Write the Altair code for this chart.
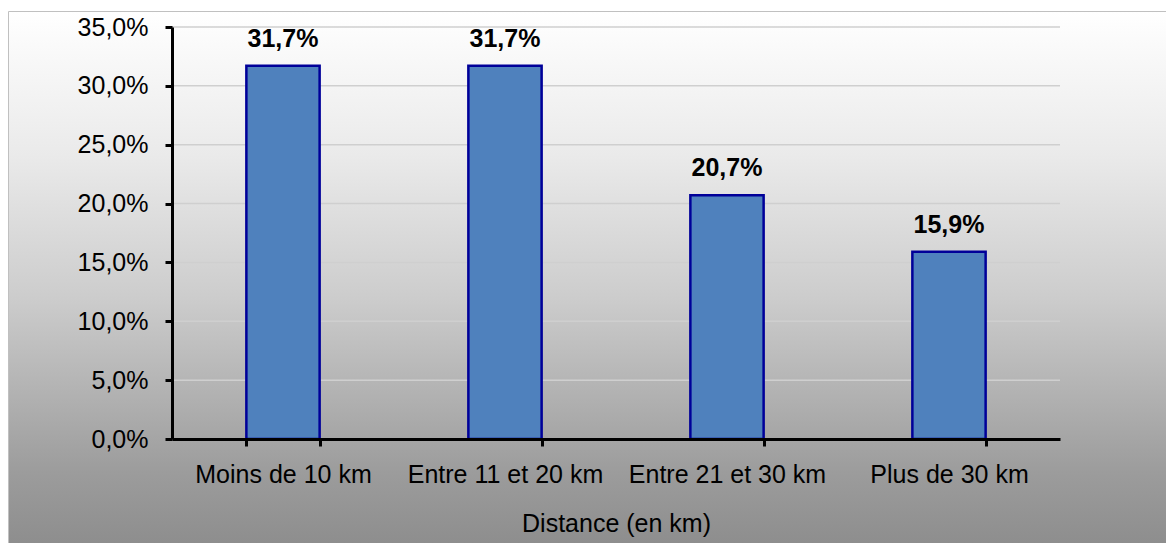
import altair as alt
import pandas as pd

categories = ["Moins de 10 km", "Entre 11 et 20 km", "Entre 21 et 30 km", "Plus de 30 km"]
values = [31.7, 31.7, 20.7, 15.9]
y_ticks = [0, 5, 10, 15, 20, 25, 30, 35]

df = pd.DataFrame({"cat": categories, "pct": values})
grid_df = pd.DataFrame({"v": y_ticks})
bg_df = pd.DataFrame({"a": [0]})

W, H = 888, 412
PAD = {"left": 164, "top": 19, "right": 106, "bottom": 104}
FONT = "Liberation Sans"

fmt_axis = "replace(format(datum.value, '.1f'), '.', ',') + '%'"

yscale = alt.Scale(domain=[0, 35])
yaxis = alt.Axis(values=y_ticks, labelExpr=fmt_axis, grid=False, zindex=1,
                 domainColor="black", domainWidth=3, tickColor="black",
                 tickWidth=3, tickSize=7, labelPadding=17, labelFontSize=25,
                 labelFont=FONT, labelColor="black", labelLimit=0)

xaxis = alt.Axis(labelAngle=0, tickBand="extent", grid=False, zindex=1,
                 domainColor="black", domainWidth=3, tickColor="black",
                 tickWidth=3, tickSize=7, labelPadding=16, labelFontSize=25,
                 labelFont=FONT, labelColor="black", labelLimit=0, titleFont=FONT,
                 titleFontSize=25, titleFontWeight="normal", titleColor="black",
                 titlePadding=24)

gradient = alt.LinearGradient(
    gradient="linear", x1=0, y1=0, x2=0, y2=1,
    stops=[
        alt.GradientStop(offset=0, color="#ffffff"),
        alt.GradientStop(offset=0.25, color="#eaeaea"),
        alt.GradientStop(offset=0.5, color="#cccccc"),
        alt.GradientStop(offset=0.8, color="#9c9c9c"),
        alt.GradientStop(offset=1, color="#858585"),
    ],
)

bg = alt.Chart(bg_df).mark_rect(fill=gradient, stroke="#c0c0c0", strokeWidth=1).encode(
    x=alt.value(-163.5), x2=alt.value(1100), y=alt.value(-15.5), y2=alt.value(560)
)

grid = alt.Chart(grid_df).mark_rule(color="#cfcfcf", strokeWidth=1.5).encode(
    y=alt.Y("v:Q", scale=yscale, axis=yaxis, title=None)
)

xenc = alt.X("cat:N", sort=categories, title="Distance (en km)",
             scale=alt.Scale(paddingInner=0.67, paddingOuter=0.335), axis=xaxis)

bars = alt.Chart(df).mark_bar(fill="#4f81bd", stroke="#000099", strokeWidth=2.5).encode(
    x=xenc,
    y=alt.Y("pct:Q", scale=yscale, axis=yaxis, title=None),
)

text = alt.Chart(df).transform_calculate(
    label="replace(format(datum.pct, '.1f'), '.', ',') + '%'"
).mark_text(font=FONT, fontSize=25, fontWeight="bold", color="black",
            baseline="alphabetic", dy=-19).encode(
    x=xenc,
    y=alt.Y("pct:Q", scale=yscale, axis=yaxis, title=None),
    text="label:N",
)

chart = alt.layer(bg, grid, bars, text).properties(
    width=W, height=H, padding=PAD, autosize=alt.AutoSizeParams(type="none"),
    background="white",
).configure_view(stroke=None)

chart.save("out.html", embed_options={"renderer": "svg", "actions": False})
